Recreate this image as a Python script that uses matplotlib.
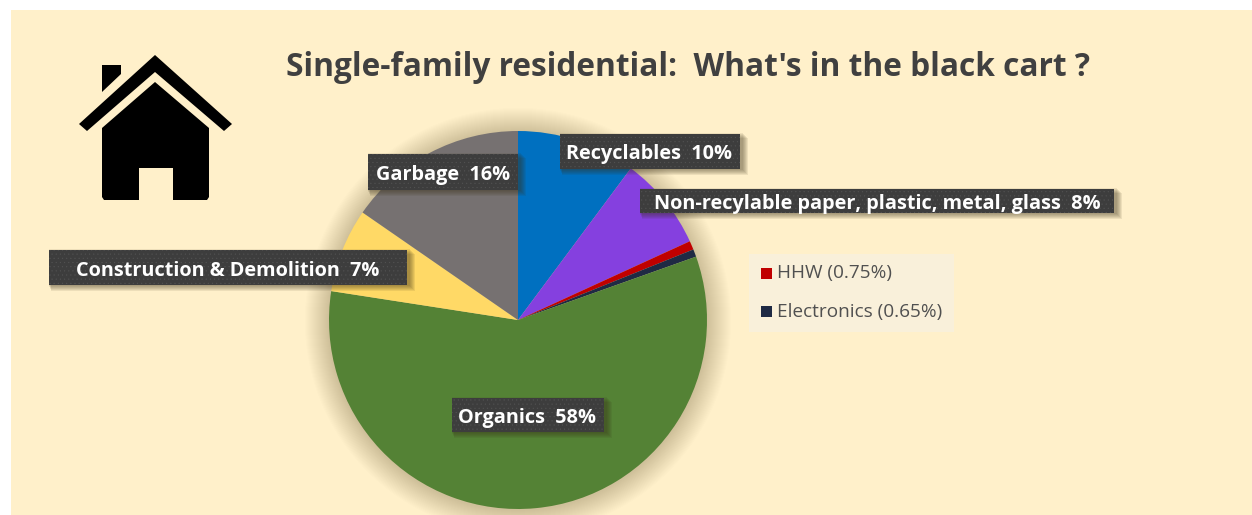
import matplotlib
matplotlib.use("Agg")
import matplotlib.pyplot as plt
from matplotlib.patches import Circle, Polygon, Rectangle

W, H = 1252, 515

categories = ["Recyclables", "Non-recylable paper, plastic, metal, glass", "HHW", "Electronics",
              "Organics", "Construction & Demolition", "Garbage"]
# slice sizes as measured on the picture, the printed labels are rounded
values = [10.2, 8, 0.75, 0.65, 58, 7.2, 15.4]
colors = ["#0070C0", "#8540DF", "#C00000", "#1F2A44", "#548235", "#FFD966", "#767171"]
label_text = ["Recyclables  10%", "Non-recylable paper, plastic, metal, glass  8%",
              "Construction & Demolition  7%", "Organics  58%", "Garbage  16%"]
legend_text = ["HHW (0.75%)", "Electronics (0.65%)"]
legend_colors = ["#C00000", "#1F2A44"]

BG = "#FFF0CA"
FONT = "Open Sans"

plt.rcParams["hatch.linewidth"] = 0.3


def yy(y):
    # y measured from the top of the picture
    return H - y


fig = plt.figure(figsize=(W / 100, H / 100), dpi=100, facecolor="white")
ax = fig.add_axes([0, 0, 1, 1])

ax.add_patch(Rectangle((11, 0), W - 11, H - 10, fc=BG, ec="none", zorder=0))

# soft shadow behind the pie
for i in range(24):
    ax.add_patch(Circle((518, yy(321)), 189 + 24 - i, fc="#5a4a20", ec="none", alpha=0.012, zorder=1))

wedges, _ = ax.pie(values, colors=colors, startangle=90, counterclock=False,
                   center=(518, yy(320)), radius=189, frame=True, wedgeprops={"linewidth": 0})
ax.set_xlim(0, W)
ax.set_ylim(0, H)
ax.set_aspect("equal")
ax.axis("off")
for w in wedges:
    w.set_zorder(2)

ax.text(688, yy(68), "Single-family residential:  What's in the black cart ?", family=FONT, weight="bold",
        fontsize=22.8, color="#404040", ha="center", va="center")


def label(x0, y0, x1, y1, text, tx):
    # shadow falls to the lower right
    for i in range(6):
        ax.add_patch(Rectangle((x0 + 2 - i * 0.5, yy(y1) - 6 + i), x1 - x0 + 6 - i * 0.5, y1 - y0 + 2,
                               fc="#3a3018", ec="none", alpha=0.09, zorder=3))
    ax.add_patch(Rectangle((x0, yy(y1)), x1 - x0, y1 - y0, fc="#3D3D3D", ec="#525252", hatch="....",
                           lw=0, zorder=4))
    ax.text(tx, yy((y0 + y1) / 2) - 3, text, family=FONT, weight="bold", fontsize=14.3, color="white",
            ha="center", va="center", zorder=5)


label(560, 134, 740, 169, label_text[0], 649)
label(640, 189, 1114, 213, label_text[1], 877)
label(49, 250, 407, 285, label_text[2], 228)
label(452, 398, 604, 432, label_text[3], 527)
label(368, 154, 518, 190, label_text[4], 443)

# small legend box for the two thin slices
ax.add_patch(Rectangle((749, yy(332)), 205, 78, fc="#F9F0DA", ec="none", zorder=3))
for i, (t, c) in enumerate(zip(legend_text, legend_colors)):
    y = 273 + i * 38.5
    ax.add_patch(Rectangle((761, yy(y + 5.5)), 11, 11, fc=c, ec="none", zorder=4))
    ax.text(777, yy(y), t, family=FONT, fontsize=13.7, color="#505050", ha="left", va="center", zorder=5)

# house icon
roof = [(155, 55), (232, 124), (224, 131), (155, 72), (87, 131), (79, 124)]
body = [(155, 82), (209, 128), (209, 197), (207, 200), (173, 200), (173, 168), (139, 168), (139, 200),
        (104, 200), (102, 197), (102, 128)]
chimney = [(102, 65), (121, 65), (121, 74), (102, 92)]
for pts in (roof, body, chimney):
    ax.add_patch(Polygon([(x, yy(y)) for x, y in pts], closed=True, fc="black", ec="none", zorder=3))

fig.savefig("out.png", dpi=100, facecolor="white")
